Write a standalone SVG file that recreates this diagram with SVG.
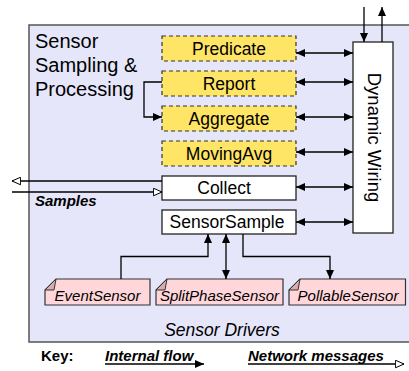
<svg xmlns="http://www.w3.org/2000/svg" width="409" height="371" viewBox="0 0 409 371">
<defs>
<style>
text{font-family:"Liberation Sans",Arial,sans-serif;fill:#000}
.lbl{font-size:17.5px;text-anchor:middle}
.drv{font-size:15px;font-style:italic;text-anchor:middle}
.yel{fill:#ffe566;stroke:#333;stroke-width:1.2;stroke-dasharray:4 3}
.wht{fill:#fff;stroke:#222;stroke-width:1.3}
.pnk{fill:#ffd6da;stroke:#333;stroke-width:1.2}
.fold{fill:#d6aeb2;stroke:#333;stroke-width:1}
.ln{fill:none;stroke:#000;stroke-width:1.3}
.bi{font-size:15px;font-weight:bold;font-style:italic}
</style>
<marker id="ah" viewBox="0 0 9 8" refX="9" refY="4" markerWidth="9" markerHeight="8" markerUnits="userSpaceOnUse" orient="auto-start-reverse">
<path d="M0,0 L9,4 L0,8 z" fill="#000"/>
</marker>
<marker id="oh" viewBox="0 0 10 9" refX="9.3" refY="4.5" markerWidth="10" markerHeight="9" markerUnits="userSpaceOnUse" orient="auto-start-reverse">
<path d="M0.7,0.7 L9.3,4.5 L0.7,8.3 z" fill="#fff" stroke="#000" stroke-width="1"/>
</marker>
</defs>

<g id="main">
<rect x="29" y="25" width="392" height="317" fill="#e6e6fa" stroke="#555" stroke-width="1.5"/>
<text x="35" y="48" font-size="20">Sensor</text>
<text x="35" y="72" font-size="20">Sampling &amp;</text>
<text x="35" y="96" font-size="20">Processing</text>
<text x="222" y="336" font-size="17.5" font-style="italic" text-anchor="middle">Sensor Drivers</text>
<text x="35" y="206" class="bi">Samples</text>
</g>

<g id="predicate"><rect class="yel" x="162" y="36" width="134" height="25"/><text class="lbl" x="229" y="54.5">Predicate</text></g>
<g id="report"><rect class="yel" x="162" y="71" width="134" height="25"/><text class="lbl" x="229" y="89.5">Report</text></g>
<g id="aggregate"><rect class="yel" x="162" y="106" width="134" height="25"/><text class="lbl" x="229" y="124.5">Aggregate</text></g>
<g id="movingavg"><rect class="yel" x="162" y="141" width="134" height="25"/><text class="lbl" x="229" y="159.5">MovingAvg</text></g>
<g id="collect"><rect class="wht" x="162" y="176" width="134" height="24"/><text class="lbl" x="224" y="194">Collect</text></g>
<g id="sensorsample"><rect class="wht" x="162" y="210" width="134" height="24"/><text class="lbl" x="227" y="228">SensorSample</text></g>
<g id="dynamicwiring"><rect class="wht" x="353" y="42" width="40" height="191"/><text transform="translate(368,137.5) rotate(90)" font-size="18.5" text-anchor="middle">Dynamic Wiring</text></g>

<g id="eventsensor"><path class="pnk" d="M56,279 H150 V305 H45 V290 Z"/><path class="fold" d="M45,290 L56,279 L54,290 Z"/><text class="drv" x="97.5" y="301">EventSensor</text></g>
<g id="splitphasesensor"><path class="pnk" d="M167,279 H283 V305 H156 V290 Z"/><path class="fold" d="M156,290 L167,279 L165,290 Z"/><text class="drv" x="219.5" y="301">SplitPhaseSensor</text></g>
<g id="pollablesensor"><path class="pnk" d="M300,279 H405.5 V305 H289 V290 Z"/><path class="fold" d="M289,290 L300,279 L298,290 Z"/><text class="drv" x="348" y="301">PollableSensor</text></g>

<g id="connectors">
<line class="ln" x1="296" y1="53" x2="353" y2="53" marker-start="url(#ah)" marker-end="url(#ah)"/>
<line class="ln" x1="296" y1="82" x2="353" y2="82" marker-start="url(#ah)" marker-end="url(#ah)"/>
<line class="ln" x1="296" y1="117" x2="353" y2="117" marker-start="url(#ah)" marker-end="url(#ah)"/>
<line class="ln" x1="296" y1="152" x2="353" y2="152" marker-start="url(#ah)" marker-end="url(#ah)"/>
<line class="ln" x1="296" y1="187" x2="353" y2="187" marker-start="url(#ah)" marker-end="url(#ah)"/>
<line class="ln" x1="296" y1="222" x2="353" y2="222" marker-start="url(#ah)" marker-end="url(#ah)"/>
<path class="ln" d="M162,82 H144 V117 H162" marker-end="url(#ah)"/>
<line class="ln" x1="364" y1="7" x2="364" y2="42" marker-end="url(#ah)"/>
<line class="ln" x1="382" y1="42" x2="382" y2="7" marker-end="url(#ah)"/>
<line class="ln" x1="162" y1="181" x2="12" y2="181" marker-end="url(#oh)"/>
<line class="ln" x1="12" y1="192" x2="162" y2="192" marker-end="url(#oh)"/>
<path class="ln" d="M121,279 V256.5 H208 V234" marker-end="url(#ah)"/>
<line class="ln" x1="226" y1="234" x2="226" y2="279" marker-start="url(#ah)" marker-end="url(#ah)"/>
<path class="ln" d="M243,234 V256.5 H330 V279" marker-end="url(#ah)"/>
</g>

<g id="key">
<text x="41" y="361" font-size="15" font-weight="bold">Key:</text>
<text x="105" y="361" class="bi">Internal flow</text>
<line class="ln" x1="105" y1="364" x2="204" y2="364" marker-end="url(#ah)"/>
<text x="248" y="361" class="bi">Network messages</text>
<line class="ln" x1="248" y1="364" x2="404" y2="364" marker-end="url(#oh)"/>
</g>
</svg>
